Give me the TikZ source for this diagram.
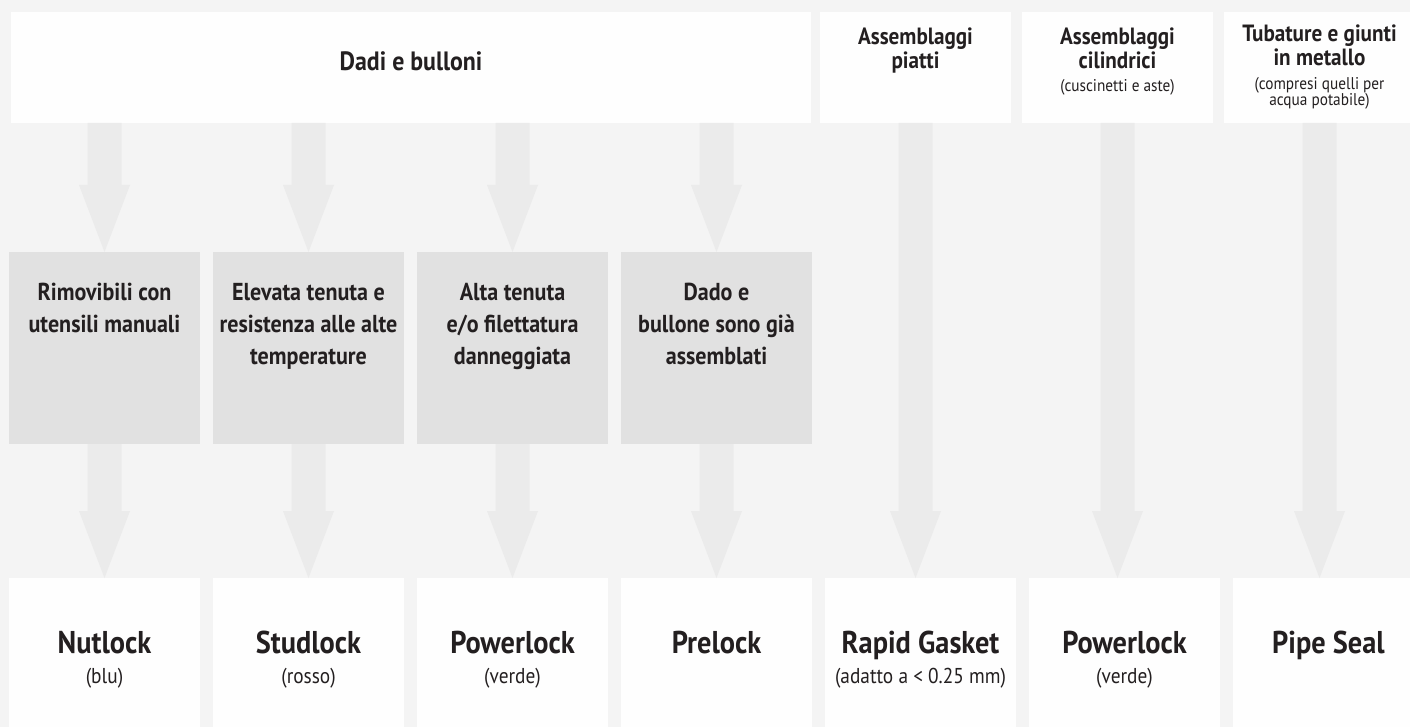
\documentclass[tikz,border=0pt]{standalone}
\usepackage{fontspec}
\setmainfont{PT Sans}[FakeStretch=0.9]
\usetikzlibrary{calc}
\definecolor{bgc}{HTML}{F4F4F4}
\definecolor{boxw}{HTML}{FEFEFE}
\definecolor{boxg}{HTML}{E1E1E1}
\definecolor{arrc}{HTML}{EBEBEB}
\definecolor{ink}{HTML}{231F20}
\newcommand\flowarrow[2]{%
  \fill[arrc] let \p1=(#1), \p2=(#2) in
    (\x1-17pt,\y1) -- (\x1+17pt,\y1) -- (\x1+17pt,\y2+67pt) -- (\x1+25.5pt,\y2+67pt)
    -- (\x2,\y2) -- (\x1-25.5pt,\y2+67pt) -- (\x1-17pt,\y2+67pt) -- cycle;}
\tikzset{
  boxbase/.style={draw=none, anchor=north west, inner sep=0pt, outer sep=0pt},
  whitebox/.style={boxbase, fill=boxw},
  graybox/.style={boxbase, fill=boxg, minimum width=191pt, minimum height=192pt},
  botbox/.style={whitebox, minimum height=149pt},
  topbox/.style={whitebox, minimum height=111pt},
  txt/.style={anchor=base, align=center, text=ink, inner sep=0pt},
  toptitle/.style={txt, font=\bfseries\fontsize{23.5}{24.5}\selectfont},
  topsub/.style={txt, font=\fontsize{17}{15}\selectfont},
  midtext/.style={txt, font=\bfseries\fontsize{24.5}{32}\selectfont},
  bottitle/.style={txt, font=\bfseries\fontsize{31.5}{32}\selectfont},
  botsub/.style={txt, font=\fontsize{21.5}{24}\selectfont},
}
\begin{document}
\begin{tikzpicture}[x=1pt,y=-1pt]
\fill[bgc] (0,0) rectangle (1410,727);
\useasboundingbox (0,0) rectangle (1410,727);

% top row
\node[topbox, minimum width=800pt] (d) at (11,12) {};
\node[topbox, minimum width=191pt] (ap) at (820,12) {};
\node[topbox, minimum width=191pt] (ac) at (1022,12) {};
\node[topbox, minimum width=186pt] (tb) at (1224,12) {};
\coordinate (tbx) at (1319.5,0);

% middle row
\node[graybox] (g1) at (9,252) {};
\node[graybox] (g2) at (213,252) {};
\node[graybox] (g3) at (417,252) {};
\node[graybox] (g4) at (621,252) {};

% bottom row
\node[botbox, minimum width=191pt] (b1) at (9,578) {};
\node[botbox, minimum width=191pt] (b2) at (213,578) {};
\node[botbox, minimum width=191pt] (b3) at (417,578) {};
\node[botbox, minimum width=191pt] (b4) at (621,578) {};
\node[botbox, minimum width=191pt] (b5) at (825,578) {};
\node[botbox, minimum width=191pt] (b6) at (1029,578) {};
\node[botbox, minimum width=177pt] (b7) at (1233,578) {};

% arrows
\flowarrow{d.south -| g1.north}{g1.north}
\flowarrow{d.south -| g2.north}{g2.north}
\flowarrow{d.south -| g3.north}{g3.north}
\flowarrow{d.south -| g4.north}{g4.north}
\flowarrow{g1.south}{b1.north}
\flowarrow{g2.south}{b2.north}
\flowarrow{g3.south}{b3.north}
\flowarrow{g4.south}{b4.north}
\flowarrow{ap.south}{b5.north -| ap.south}
\flowarrow{ac.south}{b6.north -| ac.south}
\flowarrow{tb.south -| tbx}{b7.north -| tbx}

% top texts (base anchor = last line baseline)
\node[txt, font=\bfseries\fontsize{26.5}{27}\selectfont] (td) at (411,71) {Dadi e bulloni};
\node[toptitle] (tap) at (915.5,69) {Assemblaggi\\piatti};
\node[toptitle] (tac) at (1117.5,69) {Assemblaggi\\cilindrici};
\node[topsub] (sac) at (1117.5,92) {(cuscinetti e aste)};
\node[toptitle, font=\bfseries\fontsize{23.5}{24}\selectfont] (ttb) at (1319.5,66) {Tubature e giunti\\in metallo};
\node[topsub] (stb) at (1319.5,106) {(compresi quelli per\\acqua potabile)};

% middle texts
\node[midtext] (m1) at (104.5,332) {Rimovibili con\\utensili manuali};
\node[midtext] (m2) at (308.5,364) {Elevata tenuta e\\resistenza alle alte\\temperature};
\node[midtext] (m3) at (512.5,364) {Alta tenuta\\e/o filettatura\\danneggiata};
\node[midtext] (m4) at (716.5,364) {Dado e\\bullone sono già\\assemblati};

% bottom texts
\node[bottitle] (n1) at (104.5,653) {Nutlock};
\node[botsub] (s1) at (104.5,683) {(blu)};
\node[bottitle] (n2) at (308.5,653) {Studlock};
\node[botsub] (s2) at (308.5,683) {(rosso)};
\node[bottitle] (n3) at (512.5,653) {Powerlock};
\node[botsub] (s3) at (512.5,683) {(verde)};
\node[bottitle] (n4) at (716.5,653) {Prelock};
\node[bottitle] (n5) at (920.5,653) {Rapid Gasket};
\node[botsub] (s5) at (920.5,683) {(adatto a < 0.25 mm)};
\node[bottitle] (n6) at (1124.5,653) {Powerlock};
\node[botsub] (s6) at (1124.5,683) {(verde)};
\node[bottitle] (n7) at (1328.5,653) {Pipe Seal};
\end{tikzpicture}
\end{document}
